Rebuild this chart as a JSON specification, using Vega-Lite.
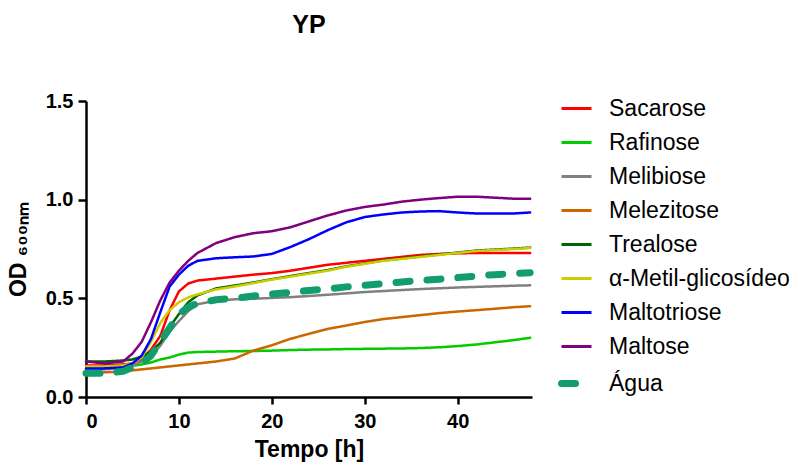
{
  "$schema": "https://vega.github.io/schema/vega-lite/v6.json",
  "autosize": {"type": "none"},
  "width": 446,
  "height": 296,
  "padding": {"left": 86, "top": 101, "right": 273, "bottom": 68},
  "background": "white",
  "title": {"text": "YP", "fontSize": 25, "fontWeight": "bold", "font": "Liberation Sans", "anchor": "middle", "color": "black", "offset": 53},
  "config": {
    "view": {"stroke": null},
    "font": "Liberation Sans"
  },
  "datasets": {
    "curves": [
      {"s":"Sacarose","t":0,"v":0.16},{"s":"Sacarose","t":2,"v":0.16},{"s":"Sacarose","t":4,"v":0.165},{"s":"Sacarose","t":5,"v":0.17},{"s":"Sacarose","t":6,"v":0.19},{"s":"Sacarose","t":7,"v":0.24},{"s":"Sacarose","t":8,"v":0.31},{"s":"Sacarose","t":9,"v":0.44},{"s":"Sacarose","t":10,"v":0.535},{"s":"Sacarose","t":11,"v":0.575},{"s":"Sacarose","t":12,"v":0.59},{"s":"Sacarose","t":14,"v":0.6},{"s":"Sacarose","t":16,"v":0.61},{"s":"Sacarose","t":18,"v":0.62},{"s":"Sacarose","t":20,"v":0.628},{"s":"Sacarose","t":22,"v":0.64},{"s":"Sacarose","t":24,"v":0.655},{"s":"Sacarose","t":26,"v":0.67},{"s":"Sacarose","t":28,"v":0.68},{"s":"Sacarose","t":30,"v":0.69},{"s":"Sacarose","t":32,"v":0.7},{"s":"Sacarose","t":34,"v":0.71},{"s":"Sacarose","t":36,"v":0.72},{"s":"Sacarose","t":38,"v":0.725},{"s":"Sacarose","t":40,"v":0.728},{"s":"Sacarose","t":42,"v":0.73},{"s":"Sacarose","t":44,"v":0.73},{"s":"Sacarose","t":46,"v":0.73},{"s":"Sacarose","t":47.8,"v":0.73},
      {"s":"Rafinose","t":0,"v":0.145},{"s":"Rafinose","t":2,"v":0.145},{"s":"Rafinose","t":4,"v":0.155},{"s":"Rafinose","t":5,"v":0.158},{"s":"Rafinose","t":6,"v":0.165},{"s":"Rafinose","t":7,"v":0.175},{"s":"Rafinose","t":8,"v":0.19},{"s":"Rafinose","t":9,"v":0.2},{"s":"Rafinose","t":10,"v":0.215},{"s":"Rafinose","t":11,"v":0.225},{"s":"Rafinose","t":12,"v":0.228},{"s":"Rafinose","t":14,"v":0.23},{"s":"Rafinose","t":16,"v":0.232},{"s":"Rafinose","t":18,"v":0.233},{"s":"Rafinose","t":20,"v":0.235},{"s":"Rafinose","t":22,"v":0.238},{"s":"Rafinose","t":24,"v":0.24},{"s":"Rafinose","t":26,"v":0.241},{"s":"Rafinose","t":28,"v":0.243},{"s":"Rafinose","t":30,"v":0.244},{"s":"Rafinose","t":32,"v":0.245},{"s":"Rafinose","t":34,"v":0.246},{"s":"Rafinose","t":36,"v":0.248},{"s":"Rafinose","t":38,"v":0.252},{"s":"Rafinose","t":40,"v":0.258},{"s":"Rafinose","t":42,"v":0.266},{"s":"Rafinose","t":44,"v":0.277},{"s":"Rafinose","t":46,"v":0.288},{"s":"Rafinose","t":47.8,"v":0.3},
      {"s":"Melibiose","t":0,"v":0.14},{"s":"Melibiose","t":2,"v":0.14},{"s":"Melibiose","t":4,"v":0.15},{"s":"Melibiose","t":5,"v":0.16},{"s":"Melibiose","t":6,"v":0.18},{"s":"Melibiose","t":7,"v":0.205},{"s":"Melibiose","t":8,"v":0.26},{"s":"Melibiose","t":9,"v":0.33},{"s":"Melibiose","t":10,"v":0.385},{"s":"Melibiose","t":11,"v":0.435},{"s":"Melibiose","t":12,"v":0.47},{"s":"Melibiose","t":14,"v":0.488},{"s":"Melibiose","t":16,"v":0.495},{"s":"Melibiose","t":18,"v":0.498},{"s":"Melibiose","t":20,"v":0.502},{"s":"Melibiose","t":22,"v":0.506},{"s":"Melibiose","t":24,"v":0.512},{"s":"Melibiose","t":26,"v":0.518},{"s":"Melibiose","t":28,"v":0.525},{"s":"Melibiose","t":30,"v":0.532},{"s":"Melibiose","t":32,"v":0.537},{"s":"Melibiose","t":34,"v":0.542},{"s":"Melibiose","t":36,"v":0.547},{"s":"Melibiose","t":38,"v":0.551},{"s":"Melibiose","t":40,"v":0.555},{"s":"Melibiose","t":42,"v":0.558},{"s":"Melibiose","t":44,"v":0.561},{"s":"Melibiose","t":46,"v":0.564},{"s":"Melibiose","t":47.8,"v":0.566},
      {"s":"Melezitose","t":0,"v":0.12},{"s":"Melezitose","t":2,"v":0.125},{"s":"Melezitose","t":4,"v":0.13},{"s":"Melezitose","t":5,"v":0.135},{"s":"Melezitose","t":6,"v":0.14},{"s":"Melezitose","t":7,"v":0.145},{"s":"Melezitose","t":8,"v":0.15},{"s":"Melezitose","t":9,"v":0.155},{"s":"Melezitose","t":10,"v":0.16},{"s":"Melezitose","t":11,"v":0.165},{"s":"Melezitose","t":12,"v":0.17},{"s":"Melezitose","t":14,"v":0.18},{"s":"Melezitose","t":16,"v":0.195},{"s":"Melezitose","t":18,"v":0.235},{"s":"Melezitose","t":20,"v":0.262},{"s":"Melezitose","t":22,"v":0.295},{"s":"Melezitose","t":24,"v":0.32},{"s":"Melezitose","t":26,"v":0.345},{"s":"Melezitose","t":28,"v":0.362},{"s":"Melezitose","t":30,"v":0.38},{"s":"Melezitose","t":32,"v":0.395},{"s":"Melezitose","t":34,"v":0.405},{"s":"Melezitose","t":36,"v":0.415},{"s":"Melezitose","t":38,"v":0.425},{"s":"Melezitose","t":40,"v":0.433},{"s":"Melezitose","t":42,"v":0.44},{"s":"Melezitose","t":44,"v":0.447},{"s":"Melezitose","t":46,"v":0.455},{"s":"Melezitose","t":47.8,"v":0.46},
      {"s":"Trealose","t":0,"v":0.18},{"s":"Trealose","t":2,"v":0.18},{"s":"Trealose","t":4,"v":0.185},{"s":"Trealose","t":5,"v":0.19},{"s":"Trealose","t":6,"v":0.205},{"s":"Trealose","t":7,"v":0.23},{"s":"Trealose","t":8,"v":0.275},{"s":"Trealose","t":9,"v":0.355},{"s":"Trealose","t":10,"v":0.42},{"s":"Trealose","t":11,"v":0.48},{"s":"Trealose","t":12,"v":0.515},{"s":"Trealose","t":14,"v":0.55},{"s":"Trealose","t":16,"v":0.565},{"s":"Trealose","t":18,"v":0.58},{"s":"Trealose","t":20,"v":0.597},{"s":"Trealose","t":22,"v":0.613},{"s":"Trealose","t":24,"v":0.628},{"s":"Trealose","t":26,"v":0.643},{"s":"Trealose","t":28,"v":0.662},{"s":"Trealose","t":30,"v":0.677},{"s":"Trealose","t":32,"v":0.692},{"s":"Trealose","t":34,"v":0.702},{"s":"Trealose","t":36,"v":0.712},{"s":"Trealose","t":38,"v":0.722},{"s":"Trealose","t":40,"v":0.732},{"s":"Trealose","t":42,"v":0.742},{"s":"Trealose","t":44,"v":0.747},{"s":"Trealose","t":46,"v":0.752},{"s":"Trealose","t":47.8,"v":0.757},
      {"s":"α-Metil-glicosídeo","t":0,"v":0.155},{"s":"α-Metil-glicosídeo","t":2,"v":0.155},{"s":"α-Metil-glicosídeo","t":4,"v":0.16},{"s":"α-Metil-glicosídeo","t":5,"v":0.17},{"s":"α-Metil-glicosídeo","t":6,"v":0.2},{"s":"α-Metil-glicosídeo","t":7,"v":0.28},{"s":"α-Metil-glicosídeo","t":8,"v":0.375},{"s":"α-Metil-glicosídeo","t":9,"v":0.44},{"s":"α-Metil-glicosídeo","t":10,"v":0.48},{"s":"α-Metil-glicosídeo","t":11,"v":0.505},{"s":"α-Metil-glicosídeo","t":12,"v":0.52},{"s":"α-Metil-glicosídeo","t":14,"v":0.545},{"s":"α-Metil-glicosídeo","t":16,"v":0.56},{"s":"α-Metil-glicosídeo","t":18,"v":0.577},{"s":"α-Metil-glicosídeo","t":20,"v":0.595},{"s":"α-Metil-glicosídeo","t":22,"v":0.61},{"s":"α-Metil-glicosídeo","t":24,"v":0.625},{"s":"α-Metil-glicosídeo","t":26,"v":0.64},{"s":"α-Metil-glicosídeo","t":28,"v":0.66},{"s":"α-Metil-glicosídeo","t":30,"v":0.675},{"s":"α-Metil-glicosídeo","t":32,"v":0.69},{"s":"α-Metil-glicosídeo","t":34,"v":0.7},{"s":"α-Metil-glicosídeo","t":36,"v":0.71},{"s":"α-Metil-glicosídeo","t":38,"v":0.72},{"s":"α-Metil-glicosídeo","t":40,"v":0.73},{"s":"α-Metil-glicosídeo","t":42,"v":0.74},{"s":"α-Metil-glicosídeo","t":44,"v":0.745},{"s":"α-Metil-glicosídeo","t":46,"v":0.75},{"s":"α-Metil-glicosídeo","t":47.8,"v":0.755},
      {"s":"Maltotriose","t":0,"v":0.145},{"s":"Maltotriose","t":2,"v":0.145},{"s":"Maltotriose","t":4,"v":0.15},{"s":"Maltotriose","t":5,"v":0.17},{"s":"Maltotriose","t":6,"v":0.21},{"s":"Maltotriose","t":7,"v":0.295},{"s":"Maltotriose","t":8,"v":0.43},{"s":"Maltotriose","t":9,"v":0.56},{"s":"Maltotriose","t":10,"v":0.62},{"s":"Maltotriose","t":11,"v":0.665},{"s":"Maltotriose","t":12,"v":0.69},{"s":"Maltotriose","t":14,"v":0.703},{"s":"Maltotriose","t":16,"v":0.708},{"s":"Maltotriose","t":18,"v":0.712},{"s":"Maltotriose","t":20,"v":0.725},{"s":"Maltotriose","t":22,"v":0.76},{"s":"Maltotriose","t":24,"v":0.8},{"s":"Maltotriose","t":26,"v":0.845},{"s":"Maltotriose","t":28,"v":0.885},{"s":"Maltotriose","t":30,"v":0.912},{"s":"Maltotriose","t":32,"v":0.925},{"s":"Maltotriose","t":34,"v":0.935},{"s":"Maltotriose","t":36,"v":0.94},{"s":"Maltotriose","t":38,"v":0.942},{"s":"Maltotriose","t":40,"v":0.935},{"s":"Maltotriose","t":42,"v":0.93},{"s":"Maltotriose","t":44,"v":0.93},{"s":"Maltotriose","t":46,"v":0.93},{"s":"Maltotriose","t":47.8,"v":0.935},
      {"s":"Maltose","t":0,"v":0.18},{"s":"Maltose","t":2,"v":0.17},{"s":"Maltose","t":4,"v":0.18},{"s":"Maltose","t":5,"v":0.22},{"s":"Maltose","t":6,"v":0.28},{"s":"Maltose","t":7,"v":0.38},{"s":"Maltose","t":8,"v":0.49},{"s":"Maltose","t":9,"v":0.58},{"s":"Maltose","t":10,"v":0.64},{"s":"Maltose","t":11,"v":0.69},{"s":"Maltose","t":12,"v":0.73},{"s":"Maltose","t":14,"v":0.78},{"s":"Maltose","t":16,"v":0.81},{"s":"Maltose","t":18,"v":0.83},{"s":"Maltose","t":20,"v":0.84},{"s":"Maltose","t":22,"v":0.86},{"s":"Maltose","t":24,"v":0.89},{"s":"Maltose","t":26,"v":0.92},{"s":"Maltose","t":28,"v":0.945},{"s":"Maltose","t":30,"v":0.963},{"s":"Maltose","t":32,"v":0.975},{"s":"Maltose","t":34,"v":0.99},{"s":"Maltose","t":36,"v":1.0},{"s":"Maltose","t":38,"v":1.008},{"s":"Maltose","t":40,"v":1.015},{"s":"Maltose","t":42,"v":1.015},{"s":"Maltose","t":44,"v":1.01},{"s":"Maltose","t":46,"v":1.005},{"s":"Maltose","t":47.8,"v":1.005},
      {"s":"Água","t":0,"v":0.12},{"s":"Água","t":2,"v":0.12},{"s":"Água","t":4,"v":0.13},{"s":"Água","t":5,"v":0.15},{"s":"Água","t":6,"v":0.17},{"s":"Água","t":7,"v":0.21},{"s":"Água","t":8,"v":0.28},{"s":"Água","t":9,"v":0.35},{"s":"Água","t":10,"v":0.42},{"s":"Água","t":11,"v":0.455},{"s":"Água","t":12,"v":0.475},{"s":"Água","t":14,"v":0.493},{"s":"Água","t":16,"v":0.5},{"s":"Água","t":18,"v":0.512},{"s":"Água","t":20,"v":0.522},{"s":"Água","t":22,"v":0.53},{"s":"Água","t":24,"v":0.54},{"s":"Água","t":26,"v":0.548},{"s":"Água","t":28,"v":0.558},{"s":"Água","t":30,"v":0.566},{"s":"Água","t":32,"v":0.574},{"s":"Água","t":34,"v":0.583},{"s":"Água","t":36,"v":0.59},{"s":"Água","t":38,"v":0.597},{"s":"Água","t":40,"v":0.605},{"s":"Água","t":42,"v":0.613},{"s":"Água","t":44,"v":0.62},{"s":"Água","t":46,"v":0.626},{"s":"Água","t":47.8,"v":0.63}
    ]
  },
  "data": {"name": "curves"},
  "mark": {"type": "line", "strokeCap": "round", "strokeJoin": "round"},
  "encoding": {
    "x": {"field": "t", "type": "quantitative", "scale": {"domain": [0, 48], "nice": false, "zero": false},
      "axis": {"title": "Tempo [h]", "values": [0, 10, 20, 30, 40], "grid": false,
        "domainColor": "black", "domainWidth": 2.5, "tickColor": "black", "tickWidth": 2.5, "tickSize": 7,
        "labelFont": "Liberation Sans", "labelFontSize": 20, "labelFontWeight": "bold", "labelColor": "black", "labelPadding": 7,
        "titleFont": "Liberation Sans", "titleFontSize": 23, "titleFontWeight": "bold", "titleColor": "black", "titlePadding": 7}},
    "y": {"field": "v", "type": "quantitative", "scale": {"domain": [0, 1.5], "nice": false},
      "axis": {"title": "OD ₆₀₀ₙₘ", "values": [0, 0.5, 1, 1.5], "format": ".1f", "grid": false,
        "domainColor": "black", "domainWidth": 2.5, "tickColor": "black", "tickWidth": 2.5, "tickSize": 8,
        "labelFont": "Liberation Sans", "labelFontSize": 20, "labelFontWeight": "bold", "labelColor": "black", "labelPadding": 5,
        "titleFont": "Liberation Sans", "titleFontSize": 23, "titleFontWeight": "bold", "titleColor": "black", "titlePadding": 15}},
    "color": {"field": "s", "type": "nominal",
      "scale": {"domain": ["Sacarose", "Rafinose", "Melibiose", "Melezitose", "Trealose", "α-Metil-glicosídeo", "Maltotriose", "Maltose", "Água"],
        "range": ["#FF0000", "#00CC00", "#808080", "#CC6600", "#006400", "#CCCC00", "#0000FF", "#800080", "#119E6C"]},
      "legend": {"title": null, "orient": "none", "legendX": 479, "legendY": -4, "symbolType": "stroke", "symbolSize": 900, "symbolStrokeWidth": 3, "labelFontSize": 23, "labelFont": "Liberation Sans", "labelColor": "black", "labelLimit": 300, "labelOffset": 21, "rowPadding": 10,
        "encode": {"symbols": {"update": {"strokeWidth": {"signal": "datum.label === 'Água' ? 7 : 3"}, "strokeDash": {"signal": "datum.label === 'Água' ? [14, 40] : [1, 0]"}, "strokeCap": {"signal": "datum.label === 'Água' ? 'round' : 'butt'"}}}}}},
    "strokeWidth": {"condition": {"test": "datum.s === 'Água'", "value": 7}, "value": 2.5},
    "strokeDash": {"condition": {"test": "datum.s === 'Água'", "value": [14, 17]}, "value": [1, 0]}
  }
}
